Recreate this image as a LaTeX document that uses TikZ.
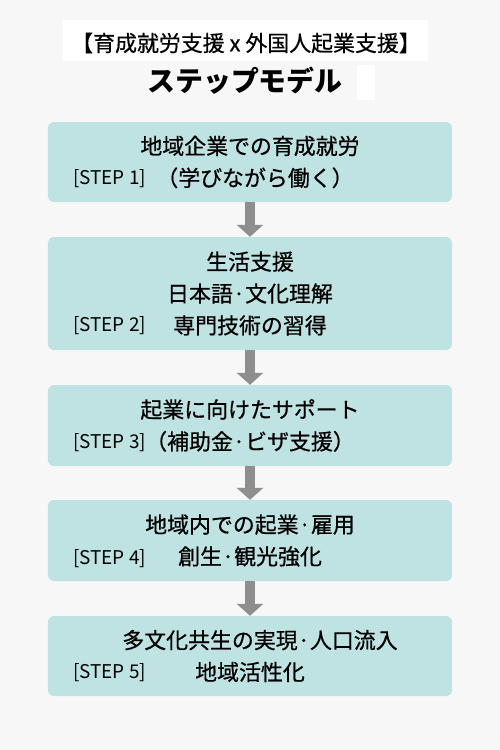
\documentclass[tikz,border=0pt]{standalone}
\usepackage{fontspec}
\usepackage{xcolor}
\usetikzlibrary{arrows.meta}
\newfontfamily\jpfont{Noto Sans CJK JP}
\newfontfamily\jpmedium[FakeBold=0.6]{Noto Sans CJK JP}
\definecolor{boxteal}{HTML}{BFE3E2}
\definecolor{bggray}{HTML}{F7F7F7}
\definecolor{arrowgray}{HTML}{8E8E8E}

\begin{document}
\begin{tikzpicture}[x=1bp,y=-1bp,
    stepbox/.style={draw=none, fill=boxteal, rounded corners=6bp, minimum width=404bp, align=center,
      font=\jpmedium\fontsize{22}{32}\selectfont, inner sep=0pt},
    steplabel/.style={anchor=west, inner sep=0pt, font=\jpfont\fontsize{19}{20}\selectfont},
    steparrow/.style={draw=arrowgray, line width=10bp, -{Triangle[width=26bp,length=12bp]}}]
  \fill [bggray] (0,0) rectangle (500,750);
  \useasboundingbox (0,0) rectangle (500,750);
  \fill [white] (63,20) rectangle (428,61);
  \fill [white] (357,65) rectangle (375,100);
  \node [font=\jpmedium\fontsize{22}{26}\selectfont] (title) at (246,43) {【育成就労支援 x 外国人起業支援】};
  \node [font=\jpfont\bfseries\fontsize{28}{32}\selectfont] (subtitle) at (245,81) {ステップモデル};
  \node [stepbox, minimum height=80bp] (step1) at (250,162) {地域企業での育成就労\\\hspace*{10bp}（学びながら働く）};
  \node [stepbox, minimum height=113bp] (step2) at (250,293.5) {生活支援\\日本語·文化理解\\専門技術の習得};
  \node [stepbox, minimum height=81bp] (step3) at (250,425.5) {起業に向けたサポート\\（補助金·ビザ支援）};
  \node [stepbox, minimum height=81bp] (step4) at (250,540.5) {地域内での起業·雇用\\創生·観光強化};
  \node [stepbox, minimum height=80bp] (step5) at (250,656) {\hspace*{20bp}多文化共生の実現·人口流入\\地域活性化};
  \node [steplabel] (label1) at (73,179) {[STEP 1]};
  \node [steplabel] (label2) at (73,326) {[STEP 2]};
  \node [steplabel] (label3) at (73,443) {[STEP 3]};
  \node [steplabel] (label4) at (73,559) {[STEP 4]};
  \node [steplabel] (label5) at (73,673) {[STEP 5]};
  \draw [steparrow] (step1.south) -- (step2.north);
  \draw [steparrow] (step2.south) -- (step3.north);
  \draw [steparrow] (step3.south) -- (step4.north);
  \draw [steparrow] (step4.south) -- (step5.north);
\end{tikzpicture}
\end{document}
